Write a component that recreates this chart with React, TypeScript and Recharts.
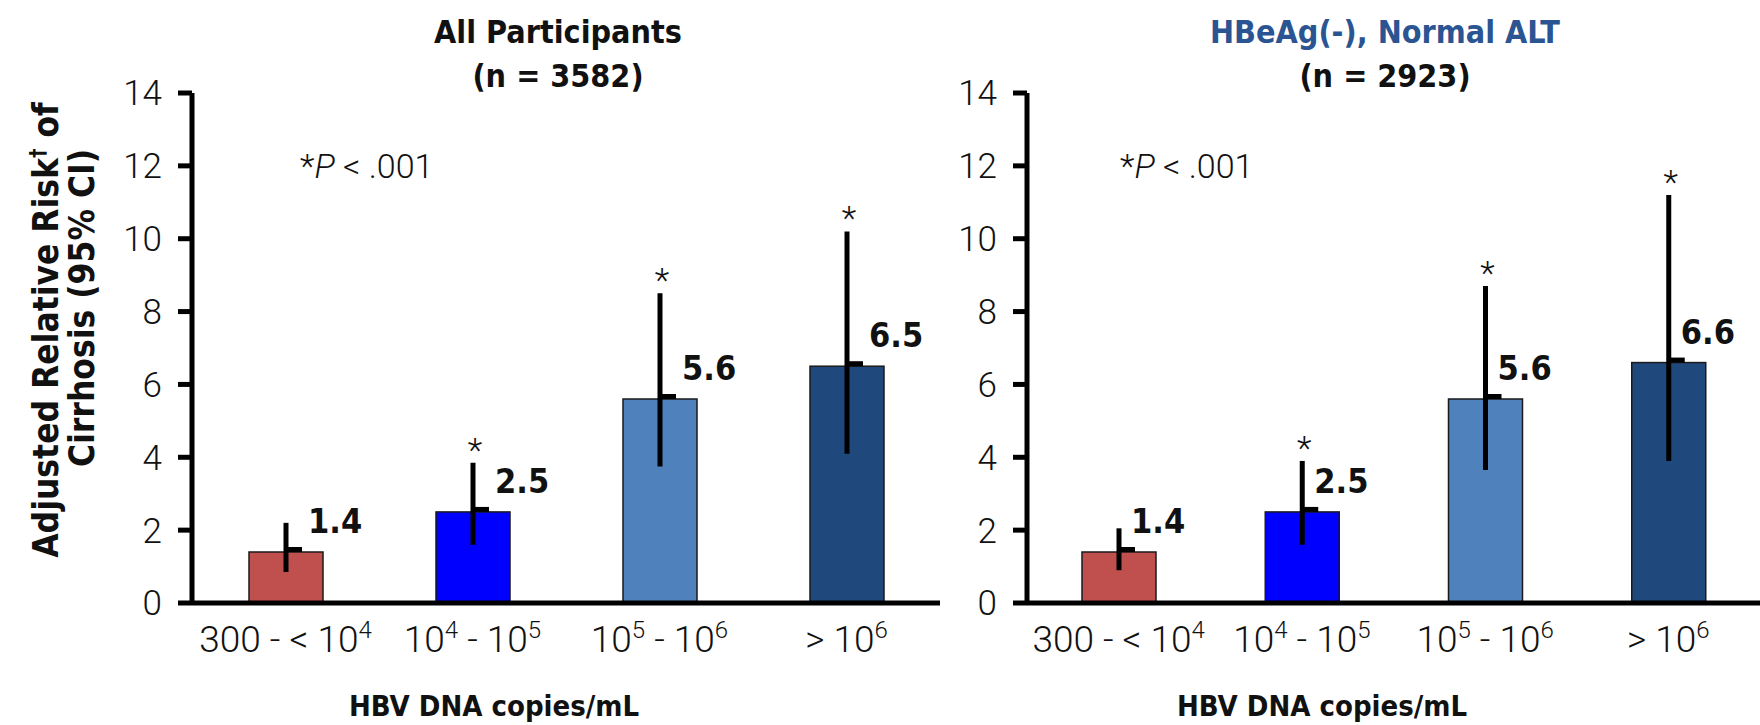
import { BarChart, Bar, XAxis, YAxis, ErrorBar, Cell } from "recharts";

const groups = ["300 - < 10^4", "10^4 - 10^5", "10^5 - 10^6", "> 10^6"];
const barColors = ["#C0504D", "#0000FF", "#4F81BD", "#1F497D"];
const starred = [false, true, true, true];
const yTicks = [0, 2, 4, 6, 8, 10, 12, 14];
const boundaryTicks = [0, 1, 2, 3, 4];

// all participants
const allRisk = [1.4, 2.5, 5.6, 6.5];
const allLow = [0.85, 1.6, 3.75, 4.1];
const allHigh = [2.2, 3.85, 8.5, 10.2];

// HBeAg(-), normal ALT
const negRisk = [1.4, 2.5, 5.6, 6.6];
const negLow = [0.9, 1.6, 3.65, 3.9];
const negHigh = [2.05, 3.9, 8.7, 11.2];

const LIGHT = "Roboto, 'Liberation Sans', sans-serif";
const NARROW = "'Liberation Sans Narrow', 'Arial Narrow', 'DejaVu Sans Condensed', Roboto, sans-serif";

function buildRows(risk: number[], low: number[], high: number[]) {
  return groups.map((g, i) => ({
    group: g,
    risk: risk[i],
    hi: high[i],
    ci: [risk[i] - low[i], high[i] - risk[i]],
    star: starred[i],
  }));
}

const allRows = buildRows(allRisk, allLow, allHigh);
const negRows = buildRows(negRisk, negLow, negHigh);

function GroupTick(props: any) {
  const { x, y, payload } = props;
  const parts = String(payload.value).split(/\^(\d)/);
  return (
    <text x={x} y={y + 41} textAnchor="middle" fontFamily={LIGHT} fontWeight={300} fontSize={37} fill="#111">
      {parts.map((p, i) =>
        i % 2 === 1 ? (
          <tspan key={i} fontSize={24} dy={-14}>{p}</tspan>
        ) : (
          <tspan key={i} dy={i > 0 ? 14 : 0}>{p}</tspan>
        )
      )}
    </text>
  );
}

function makeShape(labelGap: number) {
  return (props: any) => {
    const { x, y, width, height, fill, payload } = props;
    const cx = x + width / 2;
    const perUnit = height / payload.risk;
    const hiY = y + height - payload.hi * perUnit;
    return (
      <g>
        <rect x={x} y={y} width={width} height={height} fill={fill} stroke="#1a1a1a" strokeWidth={1.5} />
        <rect x={cx} y={y - 5} width={16} height={5} fill="#000" />
        <text x={cx + labelGap} y={y - 19} fontFamily={NARROW} fontWeight={700} fontSize={34} fill="#111">
          {payload.risk.toFixed(1)}
        </text>
        {payload.star && (
          <text x={cx + 2} y={hiY - 1} textAnchor="middle" fontFamily={LIGHT} fontWeight={300} fontSize={34} fill="#111">
            *
          </text>
        )}
      </g>
    );
  };
}

function Panel({ rows, width, labelGap }: { rows: any[]; width: number; labelGap: number }) {
  return (
    <BarChart width={width} height={725} data={rows} margin={{ top: 93, right: 0, bottom: 62, left: 132 }}>
      <XAxis
        xAxisId={0}
        type="number"
        domain={[0, 4]}
        ticks={boundaryTicks}
        allowDataOverflow
        height={0}
        tick={false}
        axisLine={false}
        tickLine={{ stroke: "#000", strokeWidth: 5 }}
        tickSize={14}
      />
      <XAxis
        xAxisId={1}
        dataKey="group"
        height={60}
        interval={0}
        tickLine={false}
        axisLine={{ stroke: "#000", strokeWidth: 5 }}
        tick={<GroupTick />}
      />
      <YAxis
        domain={[0, 14]}
        ticks={yTicks}
        width={60}
        interval={0}
        axisLine={{ stroke: "#000", strokeWidth: 5 }}
        tickLine={{ stroke: "#000", strokeWidth: 5 }}
        tickSize={14}
        tickMargin={16}
        tick={{ fontFamily: LIGHT, fontWeight: 300, fontSize: 35, fill: "#111" }}
      />
      <Bar xAxisId={1} dataKey="risk" barSize={74} isAnimationActive={false} shape={makeShape(labelGap)}>
        {rows.map((r, i) => (
          <Cell key={r.group} fill={barColors[i]} />
        ))}
        <ErrorBar dataKey="ci" width={0} strokeWidth={5} stroke="#000" isAnimationActive={false} />
      </Bar>
    </BarChart>
  );
}

function PNote({ x }: { x: number }) {
  return (
    <text x={x} y={178} fontFamily={LIGHT} fontWeight={300} fontSize={34} fill="#111">
      <tspan>*</tspan>
      <tspan fontStyle="italic">P</tspan>
      <tspan>{" < .001"}</tspan>
    </text>
  );
}

export default function App() {
  const bold = { fontFamily: NARROW, fontWeight: 700, fill: "#111" };
  return (
    <div style={{ position: "absolute", left: 0, top: 0, width: 1760, height: 725, background: "#fff", overflow: "hidden" }}>
      <div style={{ position: "absolute", left: 0, top: 0 }}>
        <Panel rows={allRows} width={940} labelGap={22} />
      </div>
      <div style={{ position: "absolute", left: 835, top: 0 }}>
        <Panel rows={negRows} width={925} labelGap={12} />
      </div>
      <svg width={1760} height={725} style={{ position: "absolute", left: 0, top: 0, pointerEvents: "none" }}>
        <text x={558} y={43} textAnchor="middle" fontSize={32} {...bold}>All Participants</text>
        <text x={558} y={87} textAnchor="middle" fontSize={32} {...bold}>(n = 3582)</text>
        <text x={1385} y={43} textAnchor="middle" fontSize={32} {...bold} fill="#2B5592">HBeAg(-), Normal ALT</text>
        <text x={1385} y={87} textAnchor="middle" fontSize={32} {...bold}>(n = 2923)</text>

        <g transform="translate(58,330) rotate(-90)">
          <text x={0} y={0} textAnchor="middle" fontSize={35} {...bold}>
            Adjusted Relative Risk<tspan fontSize={21} dy={-13}>†</tspan>
            <tspan dy={13}> of</tspan>
          </text>
        </g>
        <g transform="translate(94,308) rotate(-90)">
          <text x={0} y={0} textAnchor="middle" fontSize={35} {...bold}>Cirrhosis (95% CI)</text>
        </g>

        <PNote x={300} />
        <PNote x={1120} />

        <text x={494} y={716} textAnchor="middle" fontSize={29} {...bold}>HBV DNA copies/mL</text>
        <text x={1322} y={716} textAnchor="middle" fontSize={29} {...bold}>HBV DNA copies/mL</text>
      </svg>
    </div>
  );
}
